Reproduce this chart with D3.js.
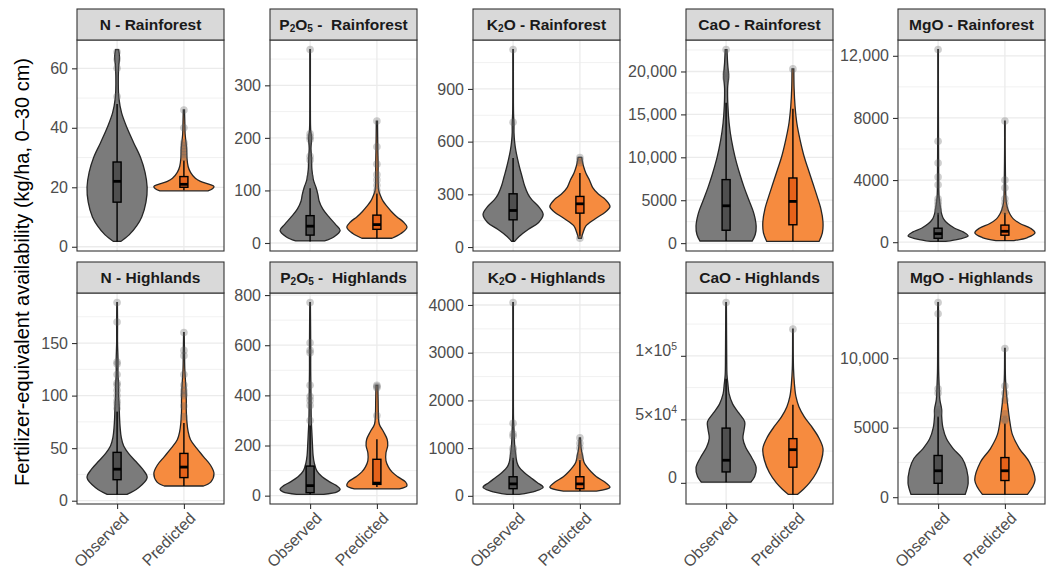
<!DOCTYPE html>
<html>
<head>
<meta charset="utf-8">
<script src="https://cdn.jsdelivr.net/npm/d3@7"></script>
<style>
  body { margin: 0; background: #fff; }
  svg { display: block; font-family: "Liberation Sans", Arial, sans-serif; }
</style>
</head>
<body>
<script>
const categories = ['Observed', 'Predicted']
const regions = ['Rainforest', 'Highlands']

// violin outlines: [value, relative width 0..1]
// boxes: [whisker low, q1, median, q3, whisker high]
// outliers: values

// N - Rainforest
const vN_RF_obs = [[1.8, .12], [4, .4], [7, .65], [10, .82], [15, .96], [20, 1], [25, .93], [30, .78], [35, .55], [40, .33], [45, .15], [50, .06], [55, .04], [60, .05], [64, .08], [66.3, .05]]
const vN_RF_pred = [[18.8, .8], [19.5, .95], [20.3, 1], [21, .85], [22, .55], [23, .38], [25, .22], [27, .14], [30, .1], [33, .09], [35, .07], [38, .04], [42, .03], [46, .02]]
const bN_RF_obs = [1.8, 15, 22, 28.5, 48]
const bN_RF_pred = [19, 20, 21, 23.6, 29]
const oN_RF_obs = [50.5, 60, 63, 65.5]
const oN_RF_pred = [30, 31, 32, 33, 34, 35, 40, 46]
const tN_RF = [0, 20, 40, 60]

// P2O5 - Rainforest
const vP_RF_obs = [[4, .48], [12, .8], [24, 1], [35, .85], [50, .62], [65, .42], [80, .3], [92, .26], [105, .2], [120, .11], [140, .06], [160, .05], [180, .03], [200, .05], [215, .02], [260, .01], [320, .01], [368, .01]]
const vP_RF_pred = [[9, .5], [18, .8], [30, 1], [40, .88], [50, .66], [60, .48], [70, .33], [80, .2], [90, .12], [100, .06], [120, .04], [150, .04], [180, .03], [232, .02]]
const bP_RF_obs = [3, 15, 32, 52, 104]
const bP_RF_pred = [9, 26, 35, 53, 94]
const oP_RF_obs = [126, 158, 165, 197, 202, 208, 368]
const oP_RF_pred = [100, 110, 120, 130, 150, 183, 232]
const tP_RF = [0, 100, 200, 300]

// K2O - Rainforest
const vK_RF_obs = [[32, .05], [60, .2], [100, .5], [140, .85], [185, 1], [230, .85], [270, .62], [300, .5], [350, .38], [400, .3], [450, .22], [500, .15], [550, .09], [600, .05], [650, .03], [700, .03], [760, .015], [900, .01], [1124, .01]]
const vK_RF_pred = [[50, .05], [80, .1], [120, .2], [160, .5], [200, .85], [230, 1], [270, .85], [300, .62], [340, .42], [380, .32], [420, .2], [460, .12], [490, .08], [510, .06]]
const bK_RF_obs = [32, 155, 208, 303, 507]
const bK_RF_pred = [60, 193, 246, 288, 421]
const oK_RF_obs = [710, 1124]
const oK_RF_pred = [50, 480, 495, 510]
const tK_RF = [0, 300, 600, 900]

// CaO - Rainforest
const vCa_RF_obs = [[250, .87], [1000, .97], [2000, 1], [3500, .92], [5000, .76], [6500, .6], [8000, .46], [10000, .3], [12000, .18], [14000, .1], [16000, .06], [18000, .05], [19500, .08], [21000, .05], [22550, .03]]
const vCa_RF_pred = [[200, .87], [1200, .98], [2500, 1], [4000, .93], [5500, .8], [7000, .66], [8500, .52], [10000, .38], [12000, .24], [14000, .13], [16000, .07], [18000, .04], [20300, .03]]
const bCa_RF_obs = [250, 1500, 4350, 7400, 16350]
const bCa_RF_pred = [200, 2140, 4860, 7590, 15650]
const oCa_RF_obs = [19200, 19500, 19800, 22550]
const oCa_RF_pred = [20300]
const tCa_RF = [0, 5000, 10000, 15000, 20000]

// MgO - Rainforest
const vMg_RF_obs = [[50, .25], [200, .7], [400, 1], [650, .85], [900, .55], [1200, .32], [1500, .18], [1800, .12], [2200, .08], [2600, .05], [3000, .03], [4000, .02], [6000, .015], [9000, .01], [12400, .01]]
const vMg_RF_pred = [[100, .3], [300, .75], [600, 1], [900, .85], [1200, .5], [1500, .28], [1800, .17], [2100, .1], [2500, .05], [3000, .03], [4000, .02], [6000, .01], [7800, .01]]
const bMg_RF_obs = [50, 250, 550, 900, 1900]
const bMg_RF_pred = [100, 450, 700, 1100, 1900]
const oMg_RF_obs = [2000, 2100, 2200, 2400, 2600, 2800, 3700, 4200, 5100, 6500, 12400]
const oMg_RF_pred = [2000, 2200, 2500, 2800, 3500, 4000, 7800]
const tMg_RF = [0, 4000, 8000, 12000]

// N - Highlands
const vN_HL_obs = [[6, .33], [12, .7], [22, 1], [30, .85], [38, .6], [45, .38], [52, .22], [60, .14], [70, .1], [80, .08], [90, .07], [100, .05], [110, .05], [120, .03], [135, .03], [150, .015], [170, .015], [188.5, .01]]
const vN_HL_pred = [[14, .65], [18, .9], [26, 1], [34, .88], [42, .65], [50, .42], [58, .22], [66, .14], [75, .1], [85, .08], [95, .08], [105, .07], [115, .05], [125, .03], [140, .02], [160, .01]]
const bN_HL_obs = [6, 20, 30, 46, 85]
const bN_HL_pred = [14, 22, 32, 45, 74]
const oN_HL_obs = [88, 92, 95, 100, 105, 110, 112, 120, 130, 132, 170, 188.5]
const oN_HL_pred = [80, 90, 100, 102, 105, 110, 120, 138, 143, 160]
const tN_HL = [0, 50, 100, 150]

// P2O5 - Highlands
const vP_HL_obs = [[5, .45], [15, .9], [25, 1], [40, .88], [55, .65], [75, .4], [100, .22], [130, .14], [160, .1], [200, .08], [250, .06], [300, .04], [400, .03], [500, .02], [600, .02], [770, .01]]
const vP_HL_pred = [[27, .75], [40, 1], [55, .95], [75, .7], [95, .5], [115, .38], [140, .3], [170, .3], [200, .36], [225, .34], [255, .22], [285, .08], [320, .05], [380, .04], [440, .03]]
const bP_HL_obs = [5, 12, 40, 118, 280]
const bP_HL_pred = [35, 45, 50, 145, 225]
const oP_HL_obs = [300, 360, 380, 395, 440, 570, 580, 610, 770]
const oP_HL_pred = [320, 430, 435, 440]
const tP_HL = [0, 200, 400, 600, 800]

// K2O - Highlands
const vK_HL_obs = [[30, .2], [100, .75], [180, 1], [280, .8], [400, .55], [500, .35], [600, .2], [700, .13], [800, .1], [900, .08], [1000, .06], [1200, .04], [1400, .03], [1600, .015], [2000, .01], [4050, .01]]
const vK_HL_pred = [[100, .55], [180, 1], [280, .85], [400, .55], [500, .38], [600, .24], [700, .14], [800, .1], [900, .07], [1000, .04], [1100, .03], [1216, .02]]
const bK_HL_obs = [30, 150, 250, 400, 800]
const bK_HL_pred = [100, 150, 250, 400, 750]
const oK_HL_obs = [820, 880, 950, 1000, 1250, 1300, 1520, 4050]
const oK_HL_pred = [800, 850, 1000, 1100, 1216]
const tK_HL = [0, 1000, 2000, 3000, 4000]

// CaO - Highlands
const vCa_HL_obs = [[500, .82], [5000, .95], [12000, 1], [20000, .85], [28000, .65], [35000, .56], [42000, .6], [48000, .62], [55000, .42], [62000, .22], [70000, .1], [78000, .06], [85000, .03], [100000, .02], [120000, .015], [141900, .01]]
const vCa_HL_pred = [[-9100, .15], [-5000, .35], [0, .55], [8000, .78], [18000, .95], [27000, 1], [36000, .85], [45000, .6], [52000, .38], [60000, .2], [68000, .1], [78000, .05], [90000, .02], [121000, .01]]
const bCa_HL_obs = [500, 8600, 17800, 43100, 82000]
const bCa_HL_pred = [-9100, 12300, 26100, 34800, 61500]
const oCa_HL_obs = [141900]
const oCa_HL_pred = [121000]
const tCa_HL = [0, 50000, 100000]
const lCa_HL = ['0', '5×10^4', '1×10^5']

// MgO - Highlands
const vMg_HL_obs = [[200, .9], [1000, 1], [2000, .95], [2800, .8], [3500, .5], [4200, .28], [5000, .16], [5800, .12], [6300, .12], [7000, .06], [7800, .04], [9000, .02], [11000, .015], [13200, .015], [14000, .01]]
const vMg_HL_pred = [[200, .75], [1200, 1], [2500, .82], [3500, .48], [4500, .25], [5500, .16], [6500, .1], [7500, .05], [8500, .02], [10700, .01]]
const bMg_HL_obs = [200, 1000, 1900, 3000, 5800]
const bMg_HL_pred = [200, 1200, 1900, 2850, 5300]
const oMg_HL_obs = [6000, 6100, 6300, 7500, 7800, 13200, 14000]
const oMg_HL_pred = [5500, 5600, 6000, 7000, 7500, 8000, 10700]
const tMg_HL = [0, 5000, 10000]

const panels = [
  { name: 'N', region: 0, ticks: tN_RF, v: [vN_RF_obs, vN_RF_pred], b: [bN_RF_obs, bN_RF_pred], o: [oN_RF_obs, oN_RF_pred] },
  { name: 'P_2O_5 - ', region: 0, ticks: tP_RF, v: [vP_RF_obs, vP_RF_pred], b: [bP_RF_obs, bP_RF_pred], o: [oP_RF_obs, oP_RF_pred] },
  { name: 'K_2O', region: 0, ticks: tK_RF, v: [vK_RF_obs, vK_RF_pred], b: [bK_RF_obs, bK_RF_pred], o: [oK_RF_obs, oK_RF_pred] },
  { name: 'CaO', region: 0, ticks: tCa_RF, v: [vCa_RF_obs, vCa_RF_pred], b: [bCa_RF_obs, bCa_RF_pred], o: [oCa_RF_obs, oCa_RF_pred] },
  { name: 'MgO', region: 0, ticks: tMg_RF, v: [vMg_RF_obs, vMg_RF_pred], b: [bMg_RF_obs, bMg_RF_pred], o: [oMg_RF_obs, oMg_RF_pred] },
  { name: 'N', region: 1, ticks: tN_HL, v: [vN_HL_obs, vN_HL_pred], b: [bN_HL_obs, bN_HL_pred], o: [oN_HL_obs, oN_HL_pred] },
  { name: 'P_2O_5 - ', region: 1, ticks: tP_HL, v: [vP_HL_obs, vP_HL_pred], b: [bP_HL_obs, bP_HL_pred], o: [oP_HL_obs, oP_HL_pred] },
  { name: 'K_2O', region: 1, ticks: tK_HL, v: [vK_HL_obs, vK_HL_pred], b: [bK_HL_obs, bK_HL_pred], o: [oK_HL_obs, oK_HL_pred] },
  { name: 'CaO', region: 1, ticks: tCa_HL, labels: lCa_HL, v: [vCa_HL_obs, vCa_HL_pred], b: [bCa_HL_obs, bCa_HL_pred], o: [oCa_HL_obs, oCa_HL_pred] },
  { name: 'MgO', region: 1, ticks: tMg_HL, v: [vMg_HL_obs, vMg_HL_pred], b: [bMg_HL_obs, bMg_HL_pred], o: [oMg_HL_obs, oMg_HL_pred] }
]

// layout
const width = 1052
const height = 570
const colLeft = [77, 270, 473, 686, 898]
const panelW = 147
const rowTop = [40, 293]
const panelH = 211
const stripH = 31

const fills = ['#7b7b7b', '#f68b3f']
const boxFills = ['#4f4f4f', '#e5621a']

const svg = d3.select('body')
  .append('svg')
  .attr('width', width)
  .attr('height', height)

svg.append('rect').attr('width', width).attr('height', height).attr('fill', '#fff')

// text with _x subscripts and ^x superscripts
function rich (text, str, size) {
  const parts = str.split(/([_^]\d)/).filter(s => s !== '')
  let back = 0
  parts.forEach(p => {
    if (p[0] === '_' || p[0] === '^') {
      const dy = p[0] === '_' ? size * 0.12 : -size * 0.4
      text.append('tspan').attr('dy', dy - back).attr('font-size', size * 0.65).text(p[1])
      back = dy
    } else {
      text.append('tspan').attr('dy', -back).text(p)
      back = 0
    }
  })
}

const fmt = v => v >= 10000 ? d3.format(',')(v) : d3.format('d')(v)

panels.forEach((p, i) => {
  const col = i % 5
  const row = p.region
  const left = colLeft[col]
  const top = rowTop[row]

  const vals = [...p.v.flat().map(d => d[0]), ...p.o.flat(), ...p.b.flat()]
  const lo = d3.min(vals)
  const hi = d3.max(vals)
  const pad = (hi - lo) * 0.05

  const y = d3.scaleLinear().domain([lo - pad, hi + pad]).range([top + panelH, top])
  const x = d3.scalePoint().domain(categories).range([left, left + panelW]).padding(0.6)
  const step = x.step()

  const g = svg.append('g').attr('class', 'panel')

  g.append('rect')
    .attr('x', left).attr('y', top).attr('width', panelW).attr('height', panelH)
    .attr('fill', '#fff')

  // minor grid
  const tstep = p.ticks[1] - p.ticks[0]
  const minor = [p.ticks[0] - tstep / 2, ...p.ticks.map(t => t + tstep / 2)]
    .filter(v => v > y.domain()[0] && v < y.domain()[1])
  g.selectAll('.minor')
    .data(minor)
    .enter()
    .append('line')
    .attr('x1', left).attr('x2', left + panelW)
    .attr('y1', d => y(d)).attr('y2', d => y(d))
    .attr('stroke', '#ebebeb').attr('stroke-width', 0.7)

  g.selectAll('.major')
    .data(p.ticks)
    .enter()
    .append('line')
    .attr('x1', left).attr('x2', left + panelW)
    .attr('y1', d => y(d)).attr('y2', d => y(d))
    .attr('stroke', '#ebebeb').attr('stroke-width', 1.3)

  g.selectAll('.vgrid')
    .data(categories)
    .enter()
    .append('line')
    .attr('x1', d => x(d)).attr('x2', d => x(d))
    .attr('y1', top).attr('y2', top + panelH)
    .attr('stroke', '#ebebeb').attr('stroke-width', 1.3)

  // violins
  const half = step * 0.45
  categories.forEach((c, k) => {
    const cx = x(c)
    const area = d3.area()
      .curve(d3.curveCatmullRom)
      .y(d => y(d[0]))
      .x0(d => cx - d[1] * half)
      .x1(d => cx + d[1] * half)
    g.append('path')
      .attr('d', area(p.v[k]))
      .attr('fill', fills[k])
      .attr('stroke', '#262626')
      .attr('stroke-width', 1.3)
  })

  // boxplots
  const bh = step * 0.06
  categories.forEach((c, k) => {
    const cx = x(c)
    const [wl, q1, med, q3, wh] = p.b[k]
    g.append('line')
      .attr('x1', cx).attr('x2', cx)
      .attr('y1', y(wl)).attr('y2', y(wh))
      .attr('stroke', '#000').attr('stroke-width', 1.4)
    g.append('rect')
      .attr('x', cx - bh).attr('width', bh * 2)
      .attr('y', y(q3)).attr('height', y(q1) - y(q3))
      .attr('fill', boxFills[k])
      .attr('stroke', '#000').attr('stroke-width', 1.4)
    g.append('line')
      .attr('x1', cx - bh).attr('x2', cx + bh)
      .attr('y1', y(med)).attr('y2', y(med))
      .attr('stroke', '#000').attr('stroke-width', 2.8)
    g.selectAll(null)
      .data(p.o[k])
      .enter()
      .append('circle')
      .attr('cx', cx)
      .attr('cy', d => y(d))
      .attr('r', 3.8)
      .attr('fill', '#666')
      .attr('fill-opacity', 0.32)
  })

  // border
  g.append('rect')
    .attr('x', left).attr('y', top).attr('width', panelW).attr('height', panelH)
    .attr('fill', 'none').attr('stroke', '#333').attr('stroke-width', 1.1)

  // strip
  g.append('rect')
    .attr('x', left).attr('y', top - stripH).attr('width', panelW).attr('height', stripH)
    .attr('fill', '#d9d9d9').attr('stroke', '#333').attr('stroke-width', 1.1)
  const title = g.append('text')
    .attr('x', left + panelW / 2)
    .attr('y', top - stripH / 2 + 5.5)
    .attr('text-anchor', 'middle')
    .attr('font-size', 15.5)
    .attr('font-weight', 'bold')
    .attr('fill', '#1a1a1a')
    .style('white-space', 'pre')
  const sep = p.name.endsWith('- ') ? ' ' : ' - '
  rich(title, p.name + sep + regions[row], 15.5)

  // y axis
  const yAxis = g.append('g')
    .attr('transform', `translate(${left},0)`)
    .call(d3.axisLeft(y).tickValues(p.ticks).tickSize(5).tickPadding(4).tickFormat(fmt))
  yAxis.select('.domain').remove()
  yAxis.selectAll('.tick line').attr('stroke', '#333').attr('stroke-width', 1.1)
  yAxis.selectAll('.tick text')
    .attr('fill', '#4d4d4d')
    .attr('font-size', 16)
    .attr('font-family', '"Liberation Sans", Arial, sans-serif')
  if (p.labels) {
    yAxis.selectAll('.tick text').each(function (d, j) {
      const t = d3.select(this)
      t.text(null)
      rich(t, p.labels[j], 16)
    })
  }

  // x axis on the bottom row only
  if (row === 1) {
    const xAxis = g.append('g')
      .attr('transform', `translate(0,${top + panelH})`)
      .call(d3.axisBottom(x).tickSize(5).tickFormat(d => d))
    xAxis.select('.domain').remove()
    xAxis.selectAll('.tick line').attr('stroke', '#333').attr('stroke-width', 1.1)
    xAxis.selectAll('.tick text')
      .attr('fill', '#4d4d4d')
      .attr('font-size', 16)
      .attr('font-family', '"Liberation Sans", Arial, sans-serif')
      .attr('text-anchor', 'end')
      .attr('x', 0).attr('y', 0).attr('dy', '0.72em')
      .attr('transform', 'translate(4,7) rotate(-45)')
  }
})

// y axis title
svg.append('text')
  .attr('transform', 'translate(22,272) rotate(-90)')
  .attr('text-anchor', 'middle')
  .attr('dy', '0.35em')
  .attr('font-size', 20)
  .attr('fill', '#000')
  .text('Fertilizer-equivalent availability (kg/ha, 0–30 cm)')
</script>
</body>
</html>
